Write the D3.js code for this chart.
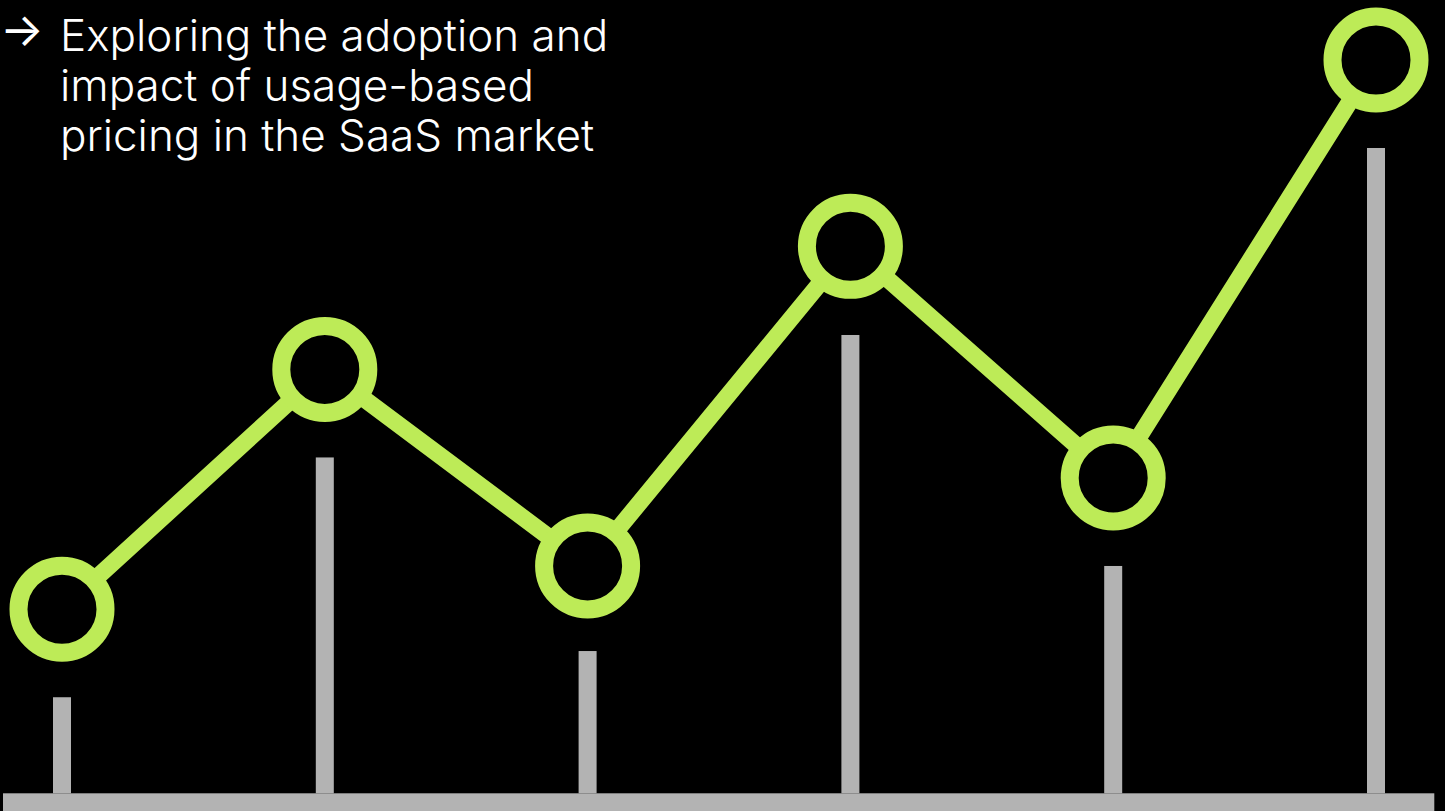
<!DOCTYPE html>
<html>
<head>
<meta charset="utf-8">
<script src="https://cdn.jsdelivr.net/npm/d3@7"></script>
<style>
  html, body { margin: 0; padding: 0; background: #000; }
  svg { display: block; }
</style>
</head>
<body>
<svg id="chart" width="1445" height="811"></svg>
<script>
// Six periods of usage-based pricing data (unlabelled categories)
const periods = ["P1", "P2", "P3", "P4", "P5", "P6"];
// Gray bars: adoption share
const adoption = [13.1, 45.8, 19.4, 62.5, 31.0, 88.0];
// Green line: impact index
const impact = [25.1, 57.8, 31.0, 74.6, 43.0, 100];
// Title lines
const titleLines = [
  "Exploring the adoption and",
  "impact of usage-based",
  "pricing in the SaaS market"
];

const W = 1445, H = 811;
const svg = d3.select("#chart");
svg.append("rect").attr("width", W).attr("height", H).attr("fill", "#000");

const baseY = 793.3;
const x = d3.scalePoint().domain(periods).range([62, 1376]);
const y = d3.scaleLinear().domain([0, 100]).range([baseY, 60]);

const gray = "#b3b3b3";
const green = "#bdeb57";
const barW = 18;

// bars
svg.append("g").selectAll("rect")
  .data(periods)
  .join("rect")
  .attr("x", d => x(d) - barW / 2)
  .attr("y", (d, i) => y(adoption[i]))
  .attr("width", barW)
  .attr("height", (d, i) => baseY - y(adoption[i]))
  .attr("fill", gray);

// baseline
svg.append("rect")
  .attr("x", 3).attr("y", baseY)
  .attr("width", 1434.3 - 3).attr("height", H - baseY)
  .attr("fill", gray);

// impact line
const line = d3.line()
  .x((d, i) => x(periods[i]))
  .y(d => y(d));
svg.append("path")
  .datum(impact)
  .attr("d", line)
  .attr("fill", "none")
  .attr("stroke", green)
  .attr("stroke-width", 17)
  .attr("stroke-linejoin", "round");

// ring markers
svg.append("g").selectAll("circle")
  .data(impact)
  .join("circle")
  .attr("cx", (d, i) => x(periods[i]))
  .attr("cy", d => y(d))
  .attr("r", 43.5)
  .attr("fill", "#000")
  .attr("stroke", green)
  .attr("stroke-width", 18);

// title
const title = svg.append("g")
  .attr("font-family", "Inter, 'Noto Sans', sans-serif")
  .attr("font-weight", 300)
  .attr("fill", "#fff");

title.append("text")
  .attr("x", 0).attr("y", 46)
  .attr("font-size", 46)
  .attr("font-weight", 400)
  .text("→");

title.selectAll("text.line")
  .data(titleLines)
  .join("text")
  .attr("class", "line")
  .attr("x", 60)
  .attr("y", (d, i) => 50.5 + i * 50)
  .attr("font-size", 44)
  .text(d => d);
</script>
</body>
</html>
